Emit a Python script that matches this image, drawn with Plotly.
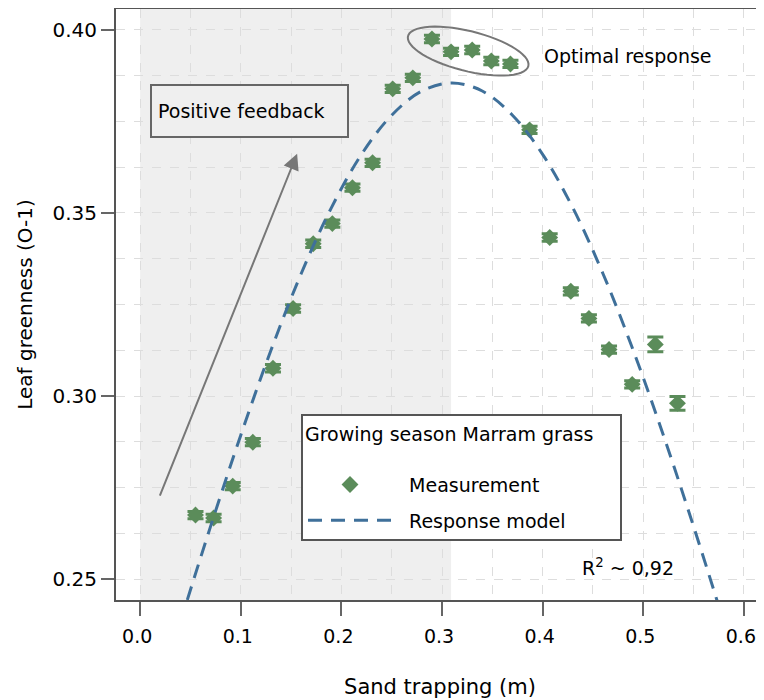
import numpy as np
import plotly.graph_objects as go

sand_m = [0.055, 0.073, 0.092, 0.112, 0.132, 0.152, 0.172, 0.191, 0.211, 0.231,
          0.251, 0.271, 0.290, 0.309, 0.330, 0.349, 0.368, 0.387, 0.407, 0.428,
          0.446, 0.466, 0.489, 0.512, 0.534]
greenness = [0.2675, 0.2667, 0.2754, 0.2874, 0.3076, 0.3239, 0.3416, 0.3471, 0.3569, 0.3637,
             0.3839, 0.3869, 0.3975, 0.3940, 0.3945, 0.3915, 0.3907, 0.3727, 0.3433, 0.3286,
             0.3212, 0.3127, 0.3032, 0.3141, 0.2980]
green_err = [0.0010, 0.0010, 0.0010, 0.0010, 0.0010, 0.0010, 0.0010, 0.0010, 0.0010, 0.0010,
             0.0010, 0.0010, 0.0010, 0.0010, 0.0010, 0.0010, 0.0010, 0.0010, 0.0010, 0.0010,
             0.0010, 0.0010, 0.0010, 0.0020, 0.0019]

# response model curve
model_x = [0.04, 0.07, 0.10, 0.13, 0.16, 0.19, 0.22, 0.25, 0.28, 0.31,
           0.34, 0.37, 0.40, 0.43, 0.46, 0.49, 0.52, 0.55, 0.58]
model_y = [0.2383, 0.2644, 0.2893, 0.3125, 0.3334, 0.3514, 0.3660, 0.3767, 0.3833, 0.3855,
           0.3833, 0.3767, 0.3660, 0.3514, 0.3334, 0.3125, 0.2893, 0.2644, 0.2383]

x_ticks = [0.0, 0.1, 0.2, 0.3, 0.4, 0.5, 0.6]
y_ticks = [0.25, 0.30, 0.35, 0.40]

FONT = "DejaVu Sans"
GREEN = "#5b8c5a"
BLUE = "#3f709a"
GREY = "#777777"
NB = "\u00a0"

x_range = [-0.024, 0.62]
y_range = [0.2443, 0.4057]
plot_w, plot_h = 648, 592
# px per data unit, used to draw the ellipse round the optimum
sx = plot_w / (x_range[1] - x_range[0])
sy = plot_h / (y_range[1] - y_range[0])

fig = go.Figure()

fig.add_trace(go.Scatter(x=sand_m, y=greenness, mode="markers",
                         name=NB * 2 + "Measurement",
                         marker=dict(symbol="diamond", size=13, color=GREEN),
                         error_y=dict(type="data", array=green_err, color=GREEN,
                                      thickness=3, width=8),
                         legendgroup="a"))
fig.add_trace(go.Scatter(x=model_x, y=model_y, mode="lines",
                         name=NB * 2 + "Response model", line_shape="spline",
                         line=dict(color=BLUE, width=3, dash="14px,9px"),
                         legendgroup="b"))

# positive feedback zone
fig.add_shape(type="rect", xref="x", yref="paper", x0=0.0, x1=0.309, y0=0, y1=1,
              fillcolor="#efefef", line_width=0, layer="below")

# ellipse round the optimal points
t = np.linspace(0, 2 * np.pi, 60)
th = np.deg2rad(14)
a, b = 62, 20
px = a * np.cos(t) * np.cos(th) - b * np.sin(t) * np.sin(th)
py = a * np.cos(t) * np.sin(th) + b * np.sin(t) * np.cos(th)
ex = 0.326 + px / sx
ey = 0.3942 - py / sy
path = "M " + " L ".join(f"{u:.5f},{v:.5f}" for u, v in zip(ex, ey)) + " Z"
fig.add_shape(type="path", path=path, xref="x", yref="y",
              line=dict(color=GREY, width=2))

fig.add_annotation(x=0.156, y=0.3662, ax=0.019, ay=0.2724, xref="x", yref="y",
                   axref="x", ayref="y", text="", showarrow=True,
                   arrowhead=2, arrowsize=1.6, arrowwidth=2, arrowcolor=GREY)

fig.add_annotation(x=0.0099, y=0.3853, xref="x", yref="y", xanchor="left", yanchor="top",
                   text=NB + "Positive feedback", showarrow=False, align="left",
                   width=195, height=50, bgcolor="#efefef", bordercolor="#666666",
                   borderwidth=2, borderpad=0, font=dict(family=FONT, size=19, color="black"))
fig.add_annotation(x=0.399, y=0.3929, xref="x", yref="y", xanchor="left",
                   text="Optimal response", showarrow=False,
                   font=dict(family=FONT, size=19, color="black"))
fig.add_annotation(x=0.437, y=0.2533, xref="x", yref="y", xanchor="left",
                   text="R<sup>2</sup> ~ 0,92", showarrow=False,
                   font=dict(family=FONT, size=19, color="black"))

fig.update_xaxes(range=x_range, tickvals=x_ticks, ticktext=[f"{v:.1f}" for v in x_ticks],
                 ticks="outside", ticklen=14, tickwidth=2, tickcolor="#666666",
                 ticklabelstandoff=4, ticklabelshift=-3, automargin=False,
                 showline=True, linecolor="#555555", linewidth=2, mirror=True,
                 showgrid=True, gridcolor="#dddddd", griddash="dash", gridwidth=1,
                 minor=dict(dtick=0.05, tick0=0, showgrid=True, gridcolor="#dddddd",
                            griddash="dash"),
                 zeroline=False,
                 title=dict(text="Sand trapping (m)", standoff=34,
                            font=dict(family=FONT, size=21, color="black")),
                 tickfont=dict(family=FONT, size=19, color="black"))
fig.update_yaxes(range=y_range, tickvals=y_ticks, ticktext=[f"{v:.2f}" for v in y_ticks],
                 ticks="outside", ticklen=13, tickwidth=2, tickcolor="#666666",
                 automargin=False,
                 showline=True, linecolor="#555555", linewidth=2,
                 showgrid=True, gridcolor="#dddddd", griddash="dash", gridwidth=1,
                 minor=dict(dtick=0.0125, tick0=0.25, showgrid=True, gridcolor="#dddddd",
                            griddash="dash"),
                 zeroline=False,
                 title=dict(text="Leaf greenness (O-1)", standoff=14,
                            font=dict(family=FONT, size=20, color="black")),
                 tickfont=dict(family=FONT, size=20, color="black"))

# the page body adds an 8px offset, so the figure is sized to land the plot
# area where the reference has it
fig.update_layout(width=756, height=693,
                  margin=dict(l=108, r=0, t=1, b=101),
                  plot_bgcolor="white", paper_bgcolor="white",
                  font=dict(family=FONT, size=19, color="black"),
                  legend=dict(x=0.2855, y=0.3142, xanchor="left", yanchor="top",
                              bgcolor="white", bordercolor="#555555", borderwidth=2,
                              itemwidth=84, tracegroupgap=8,
                              title=dict(text="Growing season Marram grass" + NB * 4 + "<br>",
                                         font=dict(family=FONT, size=19)),
                              font=dict(family=FONT, size=19)))

fig.write_html("out.html")
